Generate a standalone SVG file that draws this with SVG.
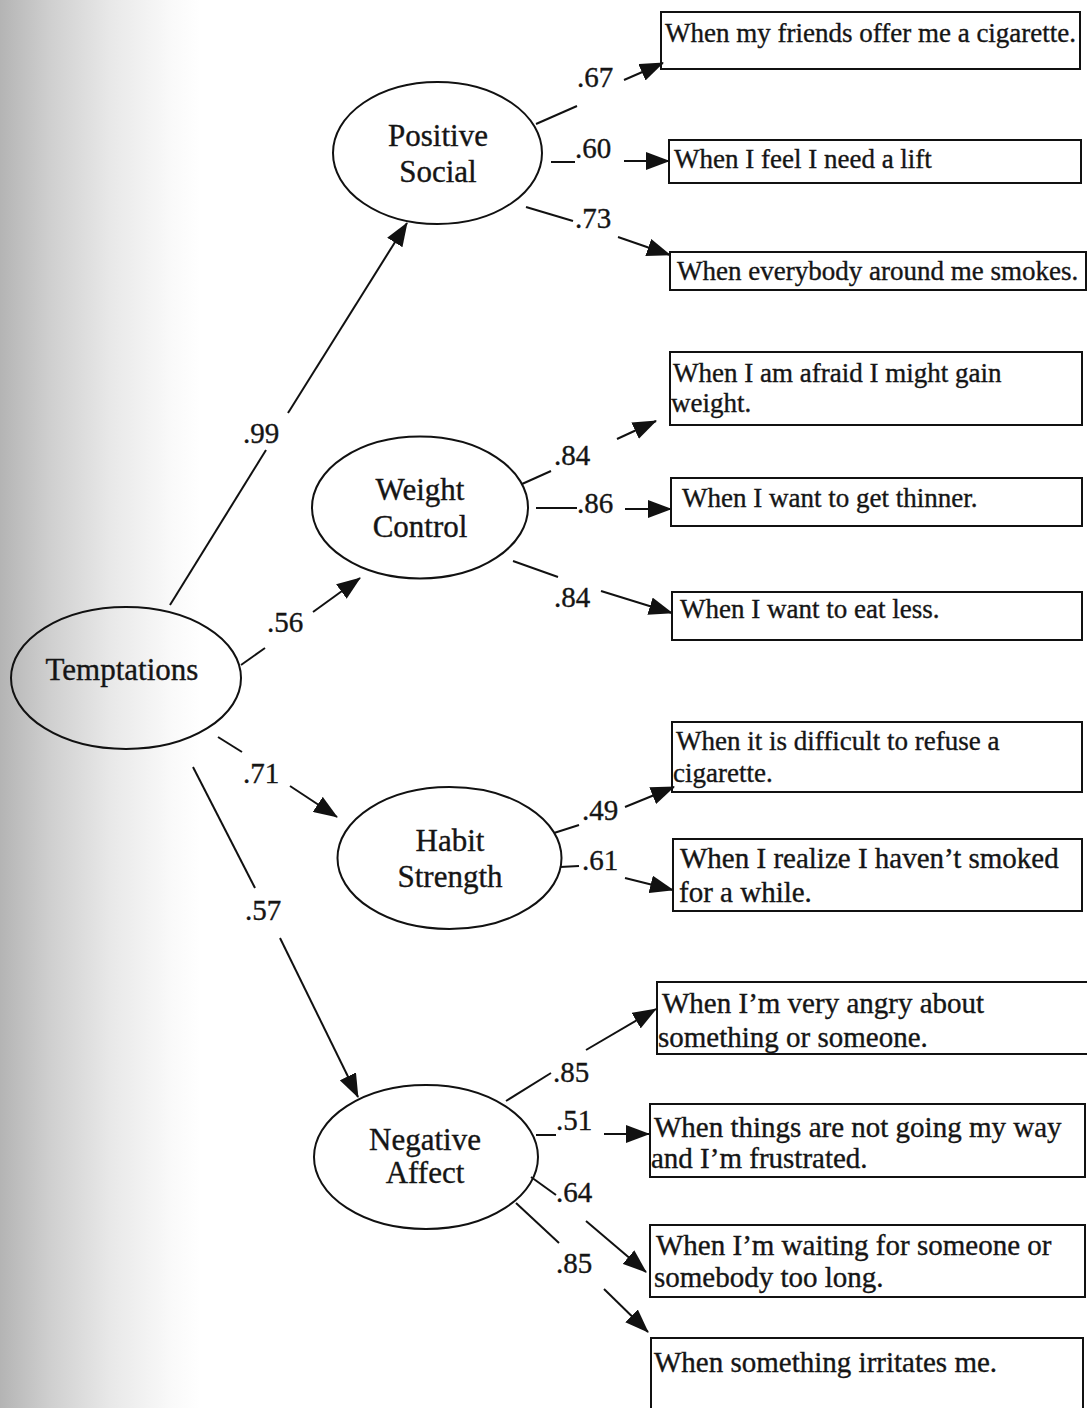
<svg xmlns="http://www.w3.org/2000/svg" width="1087" height="1408" viewBox="0 0 1087 1408">
<defs>
<linearGradient id="bg" gradientUnits="userSpaceOnUse" x1="0" y1="0" x2="200" y2="0">
<stop offset="0" stop-color="#b4b4b4"/>
<stop offset="0.25" stop-color="#cfcfcf"/>
<stop offset="0.55" stop-color="#e8e8e8"/>
<stop offset="0.85" stop-color="#f9f9f9"/>
<stop offset="1" stop-color="#ffffff"/>
</linearGradient>
<marker id="ah" markerUnits="userSpaceOnUse" markerWidth="24" markerHeight="18" refX="23" refY="9" orient="auto" viewBox="0 0 24 18">
<path d="M0,0 L24,9 L0,18 Z" fill="#111"/>
</marker>
</defs>
<style>
.bg{fill:url(#bg)}
.ell{fill:none;stroke:#111;stroke-width:2}
.box{fill:none;stroke:#111;stroke-width:2}
text{font-family:"Liberation Serif","Times New Roman",serif;fill:#151515;stroke:#151515;stroke-width:0.35}
.lt{font-size:31px;text-anchor:middle}
.bt{font-size:27px}
.bt2{font-size:29px}
.lab{font-size:29px}
.c{stroke:#111;stroke-width:2;fill:none}
.a{stroke:#111;stroke-width:2;fill:none;marker-end:url(#ah)}
</style>
<rect x="0" y="0" width="1087" height="1408" fill="#ffffff"/>
<rect class="bg" x="0" y="0" width="210" height="1408"/>

<g id="temptations">
<ellipse class="ell" cx="126" cy="678" rx="115" ry="71"/>
<text class="lt" x="122" y="680">Temptations</text>
</g>
<g id="positive-social">
<ellipse class="ell" cx="437.5" cy="153" rx="104.5" ry="71"/>
<text class="lt" x="438" y="146">Positive</text>
<text class="lt" x="438" y="182">Social</text>
</g>
<g id="weight-control">
<ellipse class="ell" cx="420" cy="507.5" rx="108" ry="71"/>
<text class="lt" x="420" y="500">Weight</text>
<text class="lt" x="420" y="537">Control</text>
</g>
<g id="habit-strength">
<ellipse class="ell" cx="449.5" cy="858" rx="112" ry="71"/>
<text class="lt" x="450" y="851">Habit</text>
<text class="lt" x="450" y="887">Strength</text>
</g>
<g id="negative-affect">
<ellipse class="ell" cx="426" cy="1157" rx="112" ry="72"/>
<text class="lt" x="425" y="1150">Negative</text>
<text class="lt" x="425" y="1183">Affect</text>
</g>

<g id="item1"><rect class="box" x="661" y="12" width="419" height="57"/><text class="bt" x="665" y="42">When my friends offer me a cigarette.</text></g>
<g id="item2"><rect class="box" x="669" y="140" width="412" height="43"/><text class="bt" x="674" y="168">When I feel I need a lift</text></g>
<g id="item3"><rect class="box" x="670" y="252" width="416" height="38"/><text class="bt" x="677" y="280">When everybody around me smokes.</text></g>
<g id="item4"><rect class="box" x="670" y="352" width="412" height="73"/><text class="bt" x="673" y="382">When I am afraid I might gain</text><text class="bt" x="671" y="412">weight.</text></g>
<g id="item5"><rect class="box" x="671" y="478" width="411" height="48"/><text class="bt" x="682" y="507">When I want to get thinner.</text></g>
<g id="item6"><rect class="box" x="672" y="592" width="410" height="48"/><text class="bt" x="680" y="618">When I want to eat less.</text></g>
<g id="item7"><rect class="box" x="672" y="722" width="410" height="70"/><text class="bt" x="676" y="750">When it is difficult to refuse a</text><text class="bt" x="673" y="782">cigarette.</text></g>
<g id="item8"><rect class="box" x="673" y="839" width="409" height="72"/><text class="bt2" x="680" y="868">When I realize I haven’t smoked</text><text class="bt2" x="679" y="902">for a while.</text></g>
<g id="item9"><rect class="box" x="657" y="982" width="432" height="72"/><text class="bt2" x="662" y="1013">When I’m very angry about</text><text class="bt2" x="658" y="1047">something or someone.</text></g>
<g id="item10"><rect class="box" x="650" y="1104" width="435" height="73"/><text class="bt2" x="654" y="1137">When things are not going my way</text><text class="bt2" x="651" y="1168">and I’m frustrated.</text></g>
<g id="item11"><rect class="box" x="650" y="1225" width="435" height="72"/><text class="bt2" x="656" y="1255">When I’m waiting for someone or</text><text class="bt2" x="654" y="1287">somebody too long.</text></g>
<g id="item12"><rect class="box" x="651" y="1338" width="432" height="80"/><text class="bt2" x="654" y="1372">When something irritates me.</text></g>

<g id="connectors">
<line class="c" x1="170" y1="605" x2="266" y2="450"/><line class="a" x1="288" y1="413" x2="407" y2="223"/>
<line class="c" x1="241" y1="665" x2="265" y2="648"/><line class="a" x1="313" y1="612" x2="360" y2="578"/>
<line class="c" x1="218" y1="737" x2="242" y2="752"/><line class="a" x1="290" y1="786" x2="337" y2="817"/>
<line class="c" x1="193" y1="767" x2="255" y2="888"/><line class="a" x1="280" y1="938" x2="358" y2="1097"/>

<line class="c" x1="536" y1="124" x2="577" y2="106"/><line class="a" x1="624" y1="80" x2="663" y2="63"/>
<line class="c" x1="551" y1="162" x2="575" y2="162"/><line class="a" x1="624" y1="161" x2="669" y2="161"/>
<line class="c" x1="526" y1="207" x2="573" y2="221"/><line class="a" x1="618" y1="237" x2="670" y2="255"/>

<line class="c" x1="522" y1="484" x2="551" y2="471"/><line class="a" x1="617" y1="439" x2="656" y2="421"/>
<line class="c" x1="536" y1="508" x2="577" y2="508"/><line class="a" x1="625" y1="509" x2="671" y2="509"/>
<line class="c" x1="513" y1="561" x2="558" y2="577"/><line class="a" x1="601" y1="591" x2="672" y2="613"/>

<line class="c" x1="554" y1="833" x2="579" y2="825"/><line class="a" x1="625" y1="807" x2="674" y2="787"/>
<line class="c" x1="560" y1="867" x2="579" y2="866"/><line class="a" x1="625" y1="878" x2="673" y2="890"/>

<line class="c" x1="506" y1="1101" x2="551" y2="1073"/><line class="a" x1="586" y1="1050" x2="656" y2="1009"/>
<line class="c" x1="536" y1="1135" x2="556" y2="1135"/><line class="a" x1="604" y1="1134" x2="649" y2="1134"/>
<line class="c" x1="531" y1="1177" x2="556" y2="1195"/><line class="a" x1="586" y1="1221" x2="646" y2="1272"/>
<line class="c" x1="516" y1="1203" x2="559" y2="1243"/><line class="a" x1="604" y1="1289" x2="648" y2="1332"/>
</g>

<g id="labels">
<text class="lab" x="577" y="87">.67</text>
<text class="lab" x="575" y="158">.60</text>
<text class="lab" x="575" y="228">.73</text>
<text class="lab" x="243" y="443">.99</text>
<text class="lab" x="554" y="465">.84</text>
<text class="lab" x="577" y="513">.86</text>
<text class="lab" x="554" y="607">.84</text>
<text class="lab" x="267" y="632">.56</text>
<text class="lab" x="243" y="783">.71</text>
<text class="lab" x="582" y="820">.49</text>
<text class="lab" x="582" y="870">.61</text>
<text class="lab" x="245" y="920">.57</text>
<text class="lab" x="553" y="1082">.85</text>
<text class="lab" x="556" y="1130">.51</text>
<text class="lab" x="556" y="1202">.64</text>
<text class="lab" x="556" y="1273">.85</text>
</g>
</svg>
